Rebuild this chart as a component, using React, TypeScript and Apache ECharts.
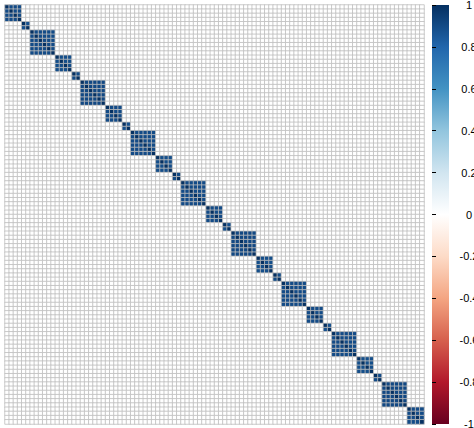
import React, { useEffect, useRef } from "react";
import * as echarts from "echarts";

// block structure of the 100 variables (block-diagonal correlation matrix)
const blockSizes = [4, 2, 6, 4, 2, 6, 4, 2, 6, 4, 2, 6, 4, 2, 6, 4, 2, 6, 4, 2, 6, 4, 2, 6, 4];
// within-block correlation (off-diagonal) per block
const blockRho = [0.9, 0.88, 0.9, 0.89, 0.9, 0.91, 0.9, 0.88, 0.9, 0.89, 0.9, 0.9, 0.9, 0.88, 0.91, 0.89, 0.9, 0.9, 0.9, 0.88, 0.9, 0.89, 0.9, 0.91, 0.9];
const offBlockValue = 0;
const colorbarTicks = [-1, -0.8, -0.6, -0.4, -0.2, 0, 0.2, 0.4, 0.6, 0.8, 1];
const palette = ["#67001F", "#B2182B", "#D6604D", "#F4A582", "#FDDBC7", "#FFFFFF", "#D1E5F0", "#92C5DE", "#4393C3", "#2166AC", "#053061"];

export default function App() {
  const ref = useRef<HTMLDivElement>(null);
  useEffect(() => {
    if (!ref.current) return;
    const chart = echarts.init(ref.current, null, { renderer: "svg" });
    const blockOf: number[] = [];
    blockSizes.forEach((s, b) => { for (let i = 0; i < s; i++) blockOf.push(b); });
    const n = blockOf.length;
    const cats = Array.from({ length: n }, (_, i) => "V" + (i + 1));
    const data: [number, number, number][] = [];
    for (let r = 0; r < n; r++) {
      for (let c = 0; c < n; c++) {
        let v = offBlockValue;
        if (r === c) v = 1;
        else if (blockOf[r] === blockOf[c]) v = blockRho[blockOf[r]];
        data.push([c, r, v]);
      }
    }
    const L = 5, T = 5, S = 419;
    const cbL = 432, cbW = 17;
    chart.setOption({
      animation: false,
      grid: [
        { left: L, top: T, width: S, height: S, outerBoundsMode: "none", containLabel: false },
        { left: cbL, top: T, width: cbW, height: S, outerBoundsMode: "none", containLabel: false },
      ],
      xAxis: [
        { type: "category", data: cats, gridIndex: 0, show: false },
        { type: "value", gridIndex: 1, show: false, min: 0, max: 1 },
      ],
      yAxis: [
        { type: "category", data: cats, gridIndex: 0, show: false, inverse: true },
        {
          type: "value", gridIndex: 1, min: -1, max: 1, interval: 0.2, position: "right",
          axisLine: { show: false },
          splitLine: { show: false },
          axisTick: { show: true, length: 4, lineStyle: { color: "#000", width: 1 } },
          axisLabel: {
            show: true, margin: 20, align: "center", color: "#000", fontSize: 11,
            fontFamily: "Liberation Sans, Arial, sans-serif",
            formatter: (v: number) => {
              const t = colorbarTicks.find((x) => Math.abs(x - v) < 1e-6);
              return t === undefined ? "" : String(t);
            },
          },
        },
      ],
      visualMap: {
        show: false, min: -1, max: 1, seriesIndex: 0, dimension: 2,
        inRange: { color: palette },
      },
      series: [
        {
          type: "heatmap", xAxisIndex: 0, yAxisIndex: 0, data,
          itemStyle: { borderColor: "#bebebe", borderWidth: 0.8 },
          emphasis: { disabled: true },
        },
        {
          type: "line", xAxisIndex: 1, yAxisIndex: 1, data: [], silent: true,
        },
      ],
      graphic: [
        {
          type: "rect", z: -1,
          shape: { x: cbL, y: T, width: cbW, height: S },
          style: {
            fill: new echarts.graphic.LinearGradient(0, 0, 0, 1,
              palette.slice().reverse().map((c, i) => ({ offset: i / (palette.length - 1), color: c }))),
          },
        },
      ],
    });
    return () => chart.dispose();
  }, []);
  return <div ref={ref} style={{ width: 474, height: 428, position: "absolute", left: 0, top: 0 }} />;
}
